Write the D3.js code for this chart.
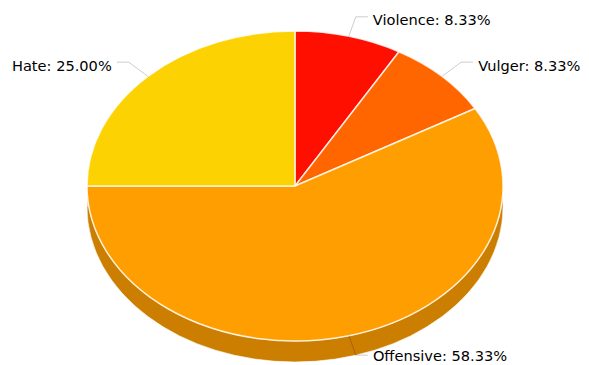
<!DOCTYPE html>
<html>
<head>
<meta charset="utf-8">
<script src="https://cdn.jsdelivr.net/npm/d3@7"></script>
<style>
  html, body { margin: 0; padding: 0; background: #fff; }
  svg { display: block; }
</style>
</head>
<body>
<svg id="chart" width="589" height="365"></svg>
<script>
const categories = ["Violence", "Vulger", "Offensive", "Hate"];
const values = [8.33, 8.33, 58.33, 25.00];
const colors = ["#FF0F00", "#FF6600", "#FF9E01", "#FCD202"];

const svg = d3.select("#chart");
const W = 589, H = 365;
const cx = 295, cy = 186, rx = 208, ry = 155, depth = 21;
const labelScale = 1.13;

const data = categories.map((c, i) => ({ cat: c, value: values[i], color: colors[i] }));
const pie = d3.pie().sort(null).value(d => d.value);
const arcs = pie(data);

const px = (a, r = rx) => cx + r * Math.sin(a);
const py = (a, r = ry, off = 0) => cy - r * Math.cos(a) + off;

// sides (front half only)
const gSide = svg.append("g");
arcs.forEach(d => {
  const s0 = Math.max(d.startAngle, Math.PI / 2);
  const s1 = Math.min(d.endAngle, 3 * Math.PI / 2);
  if (s0 >= s1) return;
  const large = (s1 - s0) > Math.PI ? 1 : 0;
  const path = `M${px(s0)},${py(s0)} A${rx},${ry} 0 ${large} 1 ${px(s1)},${py(s1)} ` +
    `L${px(s1)},${py(s1, ry, depth)} A${rx},${ry} 0 ${large} 0 ${px(s0)},${py(s0, ry, depth)} Z`;
  gSide.append("path")
    .attr("d", path)
    .attr("fill", d3.rgb(d.data.color).darker(0.63))
    .attr("stroke", "#fff")
    .attr("stroke-opacity", 0.6)
    .attr("stroke-width", 1);
});

// tops
const gTop = svg.append("g");
arcs.forEach(d => {
  const a0 = d.startAngle, a1 = d.endAngle;
  const large = (a1 - a0) > Math.PI ? 1 : 0;
  const path = `M${cx},${cy} L${px(a0)},${py(a0)} A${rx},${ry} 0 ${large} 1 ${px(a1)},${py(a1)} Z`;
  gTop.append("path")
    .attr("d", path)
    .attr("fill", d.data.color)
    .attr("stroke", "#fff")
    .attr("stroke-opacity", 0.8)
    .attr("stroke-width", 1.5)
    .attr("stroke-linejoin", "round");
});

// labels
const gLab = svg.append("g");
arcs.forEach(d => {
  const m = (d.startAngle + d.endAngle) / 2;
  const right = Math.sin(m) >= 0;
  const x0 = px(m), y0 = py(m);
  const x1 = px(m, rx * labelScale), y1 = py(m, ry * labelScale);
  const x2 = x1 + (right ? 12 : -12);
  gLab.append("path")
    .attr("d", `M${x0},${y0} L${x1},${y1} L${x2},${y1}`)
    .attr("fill", "none")
    .attr("stroke", "#000")
    .attr("stroke-opacity", 0.2)
    .attr("stroke-width", 1);
  gLab.append("text")
    .attr("x", x2 + (right ? 5 : -5))
    .attr("y", Math.min(y1 + 3, H - 10))
    .attr("dominant-baseline", "central")
    .attr("text-anchor", right ? "start" : "end")
    .attr("font-family", "DejaVu Sans, Verdana, sans-serif")
    .attr("font-size", 14.6)
    .attr("fill", "#000")
    .text(`${d.data.cat}: ${d.data.value.toFixed(2)}%`);
});
</script>
</body>
</html>
